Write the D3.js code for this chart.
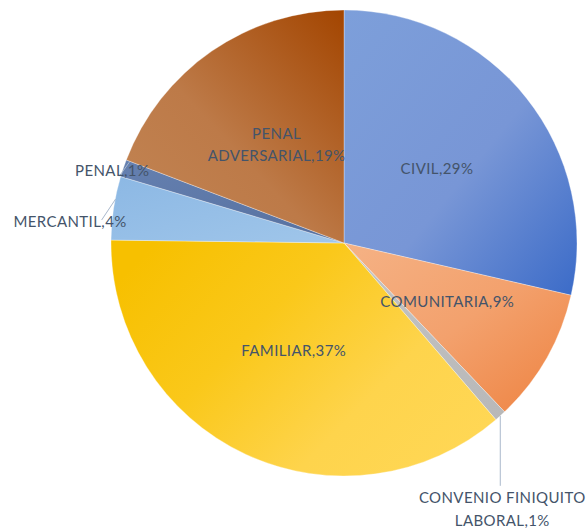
<!DOCTYPE html>
<html>
<head>
<meta charset="utf-8">
<script src="https://cdn.jsdelivr.net/npm/d3@7"></script>
<style>
  body { margin: 0; background: #fff; }
  svg { display: block; }
</style>
</head>
<body>
<svg id="chart"></svg>
<script>
// datos
const categories = ["CIVIL", "COMUNITARIA", "CONVENIO FINIQUITO LABORAL", "FAMILIAR", "MERCANTIL", "PENAL", "PENAL ADVERSARIAL"];
const values = [28.6, 9.3, 0.8, 36.5, 4.4, 1.2, 19.2];
const pctLabels = ["29%", "9%", "1%", "37%", "4%", "1%", "19%"];
const labelLines = [
  ["CIVIL,29%"],
  ["COMUNITARIA,9%"],
  ["CONVENIO FINIQUITO", "LABORAL,1%"],
  ["FAMILIAR,37%"],
  ["MERCANTIL,4%"],
  ["PENAL,1%"],
  ["PENAL", "ADVERSARIAL,19%"]
];

var width = 586, height = 530;
var cx = 344, cy = 243, R = 233;

// colores tipo degradado de excel (paradas, direccion)
var grads = [
  {stops: [[0, "#7d9fda"], [0.55, "#7896d6"], [1, "#3b6bc8"]], dir: [0, 0, 1, 1]},
  {stops: [[0, "#f5b285"], [0.5, "#f3a16d"], [1, "#ee8240"]], dir: [0, 0, 1, 1]},
  {stops: [[0, "#c4c4c4"], [1, "#b8b8b8"]], dir: [0, 0, 1, 1]},
  {stops: [[0, "#f7c000"], [0.35, "#fac81a"], [0.7, "#fed44c"], [1, "#ffd755"]], dir: [0, 0.2, 1, 0.8]},
  {stops: [[0, "#8cb8e4"], [1, "#a0c6ea"]], dir: [0, 0, 1, 1]},
  {stops: [[0, "#6580b0"], [1, "#56709f"]], dir: [0, 0, 1, 1]},
  {stops: [[0, "#c28554"], [0.45, "#bd7a48"], [1, "#a34500"]], dir: [0, 1, 1, 0]}
];

var svg = d3.select("#chart")
    .attr("width", width)
    .attr("height", height);

var defs = svg.append("defs");
grads.forEach(function(g, i) {
  var lg = defs.append("linearGradient")
      .attr("id", "g" + i)
      .attr("x1", g.dir[0]).attr("y1", g.dir[1])
      .attr("x2", g.dir[2]).attr("y2", g.dir[3]);
  g.stops.forEach(function(s) {
    lg.append("stop").attr("offset", s[0]).attr("stop-color", s[1]);
  });
});

var pie = d3.pie().sort(null).value(d => d);
var arcs = pie(values);

var arc = d3.arc().innerRadius(0).outerRadius(R);
var labelArc = d3.arc().innerRadius(0).outerRadius(R * 1.02);

var g = svg.append("g").attr("transform", "translate(" + cx + "," + cy + ")");

g.selectAll("path.slice")
    .data(arcs)
    .enter().append("path")
    .attr("class", "slice")
    .attr("d", arc)
    .attr("fill", (d, i) => "url(#g" + i + ")")
    .attr("stroke", "rgba(255,255,255,0.45)")
    .attr("stroke-width", 0.7);

var textColor = "#44546a";
var font = "Lato, 'Open Sans', sans-serif";
var fs = 15;
var ls = 0.4;

// etiquetas interiores: centroide del sector
var inside = [0, 1, 3, 6];
inside.forEach(function(i) {
  var c = labelArc.centroid(arcs[i]);
  var lines = labelLines[i];
  var t = g.append("text")
      .attr("x", c[0]).attr("y", c[1])
      .attr("text-anchor", "middle")
      .attr("font-family", font)
      .attr("font-size", fs)
      .attr("letter-spacing", ls)
      .attr("fill", textColor);
  lines.forEach(function(l, k) {
    t.append("tspan")
        .attr("x", c[0])
        .attr("y", c[1] + (k - (lines.length - 1) / 2) * 22 + 5)
        .text(l);
  });
});

// etiquetas exteriores con linea guia
function edgePoint(d, r) {
  var a = (d.startAngle + d.endAngle) / 2;
  return [Math.sin(a) * r, -Math.cos(a) * r];
}
var lineColor = "#a9b8cc";

// CONVENIO FINIQUITO LABORAL
(function() {
  var d = arcs[2];
  var p = edgePoint(d, R);
  g.append("line")
      .attr("x1", p[0]).attr("y1", p[1])
      .attr("x2", p[0]).attr("y2", p[1] + 70)
      .attr("stroke", lineColor).attr("stroke-width", 1);
  var t = g.append("text")
      .attr("text-anchor", "middle")
      .attr("font-family", font)
      .attr("font-size", fs)
      .attr("letter-spacing", ls)
      .attr("fill", textColor);
  labelLines[2].forEach(function(l, k) {
    t.append("tspan").attr("x", p[0] + 2).attr("y", p[1] + 87 + k * 23).text(l);
  });
})();

// MERCANTIL
(function() {
  var d = arcs[4];
  var p = edgePoint(d, R);
  g.append("line")
      .attr("x1", p[0] + 2).attr("y1", p[1] - 9)
      .attr("x2", p[0] - 12).attr("y2", p[1] + 12)
      .attr("stroke", lineColor).attr("stroke-width", 1);
  g.append("text")
      .attr("x", p[0] + 13).attr("y", p[1] + 19)
      .attr("text-anchor", "end")
      .attr("font-family", font)
      .attr("font-size", fs)
      .attr("letter-spacing", ls)
      .attr("fill", textColor)
      .text(labelLines[4][0]);
})();

// PENAL
(function() {
  var d = arcs[5];
  var p = edgePoint(d, R);
  g.append("line")
      .attr("x1", p[0] + 6).attr("y1", p[1] - 6)
      .attr("x2", p[0] - 4).attr("y2", p[1] + 8)
      .attr("stroke", lineColor).attr("stroke-width", 1);
  g.append("text")
      .attr("x", p[0] + 26).attr("y", p[1] + 8)
      .attr("text-anchor", "end")
      .attr("font-family", font)
      .attr("font-size", fs)
      .attr("letter-spacing", ls)
      .attr("fill", textColor)
      .text(labelLines[5][0]);
})();
</script>
</body>
</html>
